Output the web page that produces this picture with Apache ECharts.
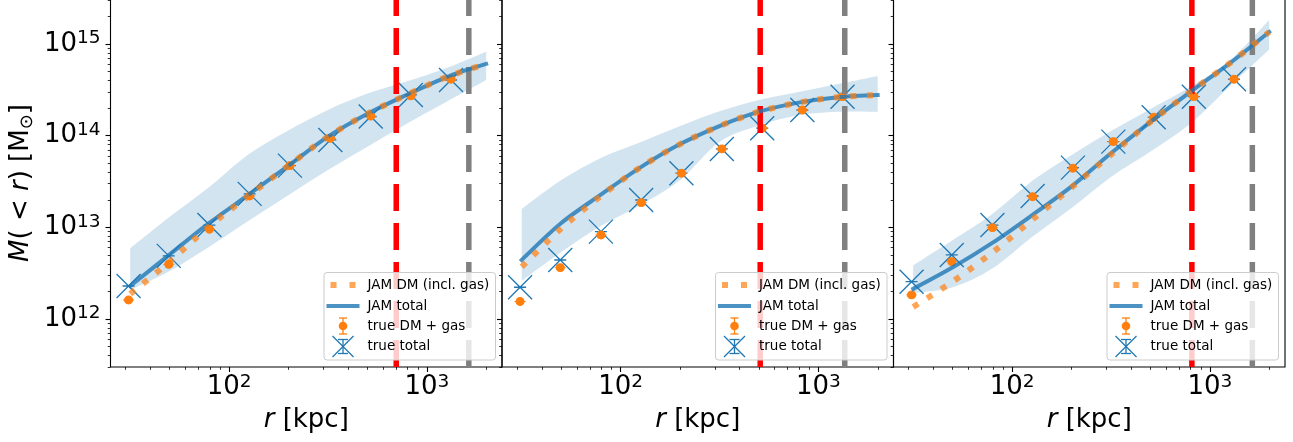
<!DOCTYPE html>
<html><head><meta charset="utf-8">
<script src="https://cdn.jsdelivr.net/npm/echarts@6/dist/echarts.min.js"></script>
<style>html,body{margin:0;padding:0;background:#fff}#c{width:1293px;height:442px}</style>
</head><body><div id="c"></div>
<script>
// ---------------- data (r in kpc, M in solar masses) ----------------
const modelR = [31.6, 50.1, 79.4, 126, 200, 316, 501, 794, 1259, 1995];
const dataR  = [31, 49.5, 79.5, 127, 203, 325, 520, 830, 1325];

const p1JamTotal = [2.29e12, 5.07e12, 1.117e13, 2.29e13, 4.73e13, 9.77e13, 1.738e14, 2.805e14, 4.375e14, 6.08e14];
const p1JamDM    = [1.875e12, 4.24e12, 1.03e13, 2.22e13, 4.73e13, 9.77e13, 1.738e14, 2.805e14, 4.375e14, 6.08e14];
const p1BandHi   = [5.92e12, 1.309e13, 2.76e13, 6.32e13, 1.151e14, 1.914e14, 2.884e14, 3.93e14, 5.50e14, 8.28e14];
const p1BandLo   = [2.075e12, 3.34e12, 6.15e12, 1.189e13, 2.26e13, 4.24e13, 7.59e13, 1.361e14, 2.355e14, 4.06e14];
const p1TrueTot  = [2.29e12, 4.88e12, 1.06e13, 2.32e13, 4.72e13, 9.0e13, 1.62e14, 2.79e14, 4.06e14];
const p1TrueDM   = [1.61e12, 3.95e12, 9.53e12, 2.2e13, 4.72e13, 9.4e13, 1.64e14, 2.72e14, 4.14e14];
const p1Lines    = [700, 1630];

const p2JamTotal = [4.41e12, 1.117e13, 2.275e13, 4.52e13, 8.11e13, 1.276e14, 1.832e14, 2.30e14, 2.636e14, 2.786e14];
const p2JamDM    = [3.70e12, 9.75e12, 2.20e13, 4.52e13, 8.11e13, 1.276e14, 1.832e14, 2.30e14, 2.636e14, 2.786e14];
const p2BandHi   = [1.589e13, 3.29e13, 5.73e13, 8.49e13, 1.274e14, 1.849e14, 2.46e14, 3.01e14, 3.67e14, 4.50e14];
const p2BandLo   = [2.60e12, 5.38e12, 1.035e13, 1.758e13, 3.29e13, 8.55e13, 1.294e14, 1.675e14, 1.832e14, 1.832e14];
const p2TrueTot  = [2.22e12, 4.4e12, 8.98e12, 1.99e13, 3.9e13, 7.18e13, 1.21e14, 1.91e14, 2.67e14];
const p2TrueDM   = [1.55e12, 3.63e12, 8.26e12, 1.86e13, 3.9e13, 7.18e13, 1.21e14, 1.91e14, 2.67e14];
const p2Lines    = [508, 1360];

const p3JamTotal = [2.13e12, 3.66e12, 6.76e12, 1.355e13, 2.805e13, 6.43e13, 1.419e14, 3.00e14, 6.17e14, 1.358e15];
const p3JamDM    = [1.352e12, 2.56e12, 5.32e12, 1.205e13, 2.73e13, 6.21e13, 1.419e14, 3.00e14, 6.17e14, 1.358e15];
const p3BandHi   = [3.84e12, 7.28e12, 1.40e13, 3.21e13, 6.17e13, 1.127e14, 1.963e14, 3.40e14, 6.61e14, 1.837e15];
const p3BandLo   = [1.923e12, 2.22e12, 3.55e12, 7.85e12, 1.63e13, 3.55e13, 6.75e13, 1.346e14, 3.45e14, 8.75e14];
const p3TrueTot  = [2.55e12, 5.0e12, 1.06e13, 2.2e13, 4.49e13, 8.63e13, 1.59e14, 2.67e14, 4.14e14];
const p3TrueDM   = [1.83e12, 4.23e12, 9.93e12, 2.16e13, 4.42e13, 8.63e13, 1.59e14, 2.67e14, 4.14e14];
const p3Lines    = [811, 1640];

const xTickValues = [100, 1000];
const yTickValues = [1e12, 1e13, 1e14, 1e15];
const xRange = [25.12, 2399];
const yRange = [2.99e11, 3.11e15];

const legendLabels = ['JAM DM (incl. gas)', 'JAM total', 'true DM + gas', 'true total'];

// ---------------- layout / style ----------------
const FONT = 'DejaVu Sans';
const panelLeft = [110.5, 502, 893.5];
const W = 391.5, TOP = -1, H = 368;
const C0 = '#1f77b4', C1 = '#ff7f0e';

const panels = [
  {tot: p1JamTotal, dm: p1JamDM, hi: p1BandHi, lo: p1BandLo, tt: p1TrueTot, td: p1TrueDM, vl: p1Lines},
  {tot: p2JamTotal, dm: p2JamDM, hi: p2BandHi, lo: p2BandLo, tt: p2TrueTot, td: p2TrueDM, vl: p2Lines},
  {tot: p3JamTotal, dm: p3JamDM, hi: p3BandHi, lo: p3BandLo, tt: p3TrueTot, td: p3TrueDM, vl: p3Lines}
];

const lg = v => Math.log10(v);
const pairs = (rs, ms) => rs.map((r, k) => [lg(r), lg(ms[k])]);

const xMin = lg(xRange[0]), xMax = lg(xRange[1]);
const yMin = lg(yRange[0]), yMax = lg(yRange[1]);
const xMinor = [], yMinor = [];
for (let n = 1; n <= 3; n++) for (let k = 2; k <= 9; k++) { const v = lg(k * Math.pow(10, n)); if (v > xMin && v < xMax) xMinor.push(v); }
for (let n = 11; n <= 15; n++) for (let k = 2; k <= 9; k++) { const v = lg(k * Math.pow(10, n)); if (v > yMin && v < yMax) yMinor.push(v); }

const tickRich = {
  b: {fontSize: 26, lineHeight: 30, fontFamily: FONT, color: '#000', verticalAlign: 'middle'},
  s: {fontSize: 18.5, lineHeight: 17, fontFamily: FONT, color: '#000', verticalAlign: 'top'}
};
const tickFmt = v => '{b|10}{s|' + Math.round(v) + '}';

// Catmull-Rom path through pixel points (rendering helper for the band edges)
function crPath(pts, moveFirst) {
  let d = (moveFirst ? 'M' : 'L') + pts[0][0] + ',' + pts[0][1];
  for (let k = 0; k < pts.length - 1; k++) {
    const p0 = pts[Math.max(k - 1, 0)], p1 = pts[k], p2 = pts[k + 1], p3 = pts[Math.min(k + 2, pts.length - 1)];
    const c1 = [p1[0] + (p2[0] - p0[0]) / 6, p1[1] + (p2[1] - p0[1]) / 6];
    const c2 = [p2[0] - (p3[0] - p1[0]) / 6, p2[1] - (p3[1] - p1[1]) / 6];
    d += 'C' + c1[0] + ',' + c1[1] + ',' + c2[0] + ',' + c2[1] + ',' + p2[0] + ',' + p2[1];
  }
  return d;
}

const grids = [], xAxes = [], yAxes = [], series = [], graphics = [];

panels.forEach((p, i) => {
  grids.push({left: panelLeft[i], top: TOP, width: W, height: H, show: true,
    borderColor: '#000', borderWidth: 1.1, backgroundColor: 'transparent',
    containLabel: false, outerBoundsMode: 'none'});

  xAxes.push({gridIndex: i, type: 'value', position: 'bottom', min: xMin, max: xMax,
    axisLine: {show: false}, splitLine: {show: false},
    axisTick: {show: true, customValues: xTickValues.map(lg), length: 5, lineStyle: {color: '#000', width: 1.1}},
    axisLabel: {show: true, customValues: xTickValues.map(lg), formatter: tickFmt, margin: 5.5, rich: tickRich},
    name: '{i|r} [kpc]', nameLocation: 'middle', nameGap: 38.5, nameMoveOverlap: false,
    nameTextStyle: {fontSize: 26, lineHeight: 30, fontFamily: FONT, color: '#000',
      rich: {i: {fontSize: 26, lineHeight: 30, fontFamily: FONT, fontStyle: 'italic', color: '#000'}}}
  });
  xAxes.push({gridIndex: i, type: 'value', position: 'bottom', min: xMin, max: xMax,
    axisLine: {show: false}, splitLine: {show: false}, axisLabel: {show: false},
    axisTick: {show: true, customValues: xMinor, length: 2.8, lineStyle: {color: '#000', width: 0.8}}});

  const yMajor = {gridIndex: i, type: 'value', position: 'left', min: yMin, max: yMax,
    axisLine: {show: false}, splitLine: {show: false},
    axisTick: {show: true, customValues: yTickValues.map(lg), length: 5, lineStyle: {color: '#000', width: 1.1}},
    axisLabel: {show: i === 0, customValues: yTickValues.map(lg), formatter: tickFmt, margin: 10, rich: tickRich}
  };
  if (i === 0) {
    Object.assign(yMajor, {
      name: '{i|M}( < {i|r}) [M{sub|⊙}]', nameLocation: 'middle', nameRotate: 90, nameGap: 74, nameMoveOverlap: false,
      nameTextStyle: {fontSize: 26, lineHeight: 30, fontFamily: FONT, color: '#000',
        rich: {
          i: {fontSize: 26, lineHeight: 30, fontFamily: FONT, fontStyle: 'italic', color: '#000'},
          sub: {fontSize: 18, lineHeight: 22, fontFamily: FONT, color: '#000', verticalAlign: 'bottom'}
        }}
    });
  }
  yAxes.push(yMajor);
  yAxes.push({gridIndex: i, type: 'value', position: 'left', min: yMin, max: yMax,
    axisLine: {show: false}, splitLine: {show: false}, axisLabel: {show: false},
    axisTick: {show: true, customValues: yMinor, length: 2.8, lineStyle: {color: '#000', width: 0.8}}});

  const ax = {xAxisIndex: 2 * i, yAxisIndex: 2 * i, silent: true, animation: false};
  const vcol = ['#ff0000', '#808080'];
  p.vl.forEach((xv, j) => {
    series.push(Object.assign({type: 'line', name: j ? 'grey line' : 'red line', symbol: 'none',
      data: [[lg(xv), yMin], [lg(xv), yMax]],
      lineStyle: {color: vcol[j], width: 5.5, type: [27, 12], cap: 'butt'}}, ax));
  });
  // uncertainty band: filled region between p.lo and p.hi, placed with the axes' scales
  series.push(Object.assign({type: 'custom', name: 'JAM band', clip: true,
    data: [[lg(modelR[0]), lg(p.lo[0])]],
    renderItem: (params, api) => {
      const up = modelR.map((r, k) => api.coord([lg(r), lg(p.hi[k])]));
      const lo = modelR.map((r, k) => api.coord([lg(r), lg(p.lo[k])])).reverse();
      const d = crPath(up, true) + crPath(lo, false) + 'Z';
      return {type: 'path', shape: {pathData: d}, style: {fill: '#d2e4f0', stroke: null}};
    }}, ax));
  series.push(Object.assign({type: 'line', name: legendLabels[1], symbol: 'none', smooth: 0.3,
    data: pairs(modelR, p.tot), lineStyle: {color: 'rgba(31,119,180,0.8)', width: 4, cap: 'square'}}, ax));
  series.push(Object.assign({type: 'line', name: legendLabels[0], symbol: 'none', smooth: 0.3,
    data: pairs(modelR, p.dm), lineStyle: {color: 'rgba(255,127,14,0.7)', width: 6, type: [6, 10.5], cap: 'butt'}}, ax));
  series.push(Object.assign({type: 'scatter', name: legendLabels[3],
    symbol: 'path://M0,0L24,24M24,0L0,24M6,12L18,12', symbolSize: 24,
    data: pairs(dataR, p.tt),
    itemStyle: {color: 'rgba(0,0,0,0)', borderColor: C0, borderWidth: 1.3, opacity: 1}}, ax));
  series.push(Object.assign({type: 'scatter', name: legendLabels[2],
    symbol: 'path://M0,4.5L11,4.5M9.5,4.5A4,4,0,1,1,1.5,4.5A4,4,0,1,1,9.5,4.5Z', symbolSize: [11, 8],
    data: pairs(dataR, p.td),
    itemStyle: {color: C1, borderColor: C1, borderWidth: 1, opacity: 1}}, ax));

  // legend box (matplotlib style)
  const R = panelLeft[i] + W, B = TOP + H;
  const cx = R - 159, tx = R - 134.5;
  const rows = [B - 82, B - 61, B - 41, B - 20.5];
  const z = 100;
  graphics.push({type: 'rect', z, shape: {x: R - 178, y: B - 94.5, width: 171.5, height: 87.5, r: 3},
    style: {fill: 'rgba(255,255,255,0.8)', stroke: '#cccccc', lineWidth: 1}});
  [-9.5, 9.5].forEach(dx => graphics.push({type: 'rect', z: z + 1,
    shape: {x: cx + dx - 3, y: rows[0] - 3, width: 6, height: 6}, style: {fill: 'rgba(255,127,14,0.7)'}}));
  graphics.push({type: 'line', z: z + 1, shape: {x1: cx - 14.5, y1: rows[1], x2: cx + 14.5, y2: rows[1]},
    style: {stroke: 'rgba(31,119,180,0.8)', lineWidth: 4, lineCap: 'square'}});
  const y2 = rows[2];
  graphics.push({type: 'polyline', z: z + 1, shape: {points: [[cx, y2 - 8], [cx, y2 + 8]]}, style: {stroke: C1, lineWidth: 1.3}});
  graphics.push({type: 'polyline', z: z + 1, shape: {points: [[cx - 4, y2 - 8], [cx + 4, y2 - 8]]}, style: {stroke: C1, lineWidth: 1.3}});
  graphics.push({type: 'polyline', z: z + 1, shape: {points: [[cx - 4, y2 + 8], [cx + 4, y2 + 8]]}, style: {stroke: C1, lineWidth: 1.3}});
  graphics.push({type: 'circle', z: z + 2, shape: {cx: cx, cy: y2, r: 4.3}, style: {fill: C1}});
  const y3 = rows[3];
  graphics.push({type: 'polyline', z: z + 1, shape: {points: [[cx - 10.5, y3 - 10.5], [cx + 10.5, y3 + 10.5]]}, style: {stroke: C0, lineWidth: 1.3}});
  graphics.push({type: 'polyline', z: z + 1, shape: {points: [[cx + 10.5, y3 - 10.5], [cx - 10.5, y3 + 10.5]]}, style: {stroke: C0, lineWidth: 1.3}});
  graphics.push({type: 'polyline', z: z + 1, shape: {points: [[cx, y3 - 7], [cx, y3 + 7]]}, style: {stroke: C0, lineWidth: 1.3}});
  graphics.push({type: 'polyline', z: z + 1, shape: {points: [[cx - 5, y3 - 7], [cx + 5, y3 - 7]]}, style: {stroke: C0, lineWidth: 1.3}});
  graphics.push({type: 'polyline', z: z + 1, shape: {points: [[cx - 5, y3 + 7], [cx + 5, y3 + 7]]}, style: {stroke: C0, lineWidth: 1.3}});
  legendLabels.forEach((t, k) => graphics.push({type: 'text', z: z + 2, x: tx, y: rows[k],
    style: {text: t, fill: '#000', font: '13.5px "DejaVu Sans"', align: 'left', verticalAlign: 'middle'}}));
});

const chart = echarts.init(document.getElementById('c'), null, {renderer: 'canvas'});
chart.setOption({
  animation: false,
  backgroundColor: '#ffffff',
  textStyle: {fontFamily: FONT},
  grid: grids, xAxis: xAxes, yAxis: yAxes, series: series, graphic: graphics
});
</script></body></html>
